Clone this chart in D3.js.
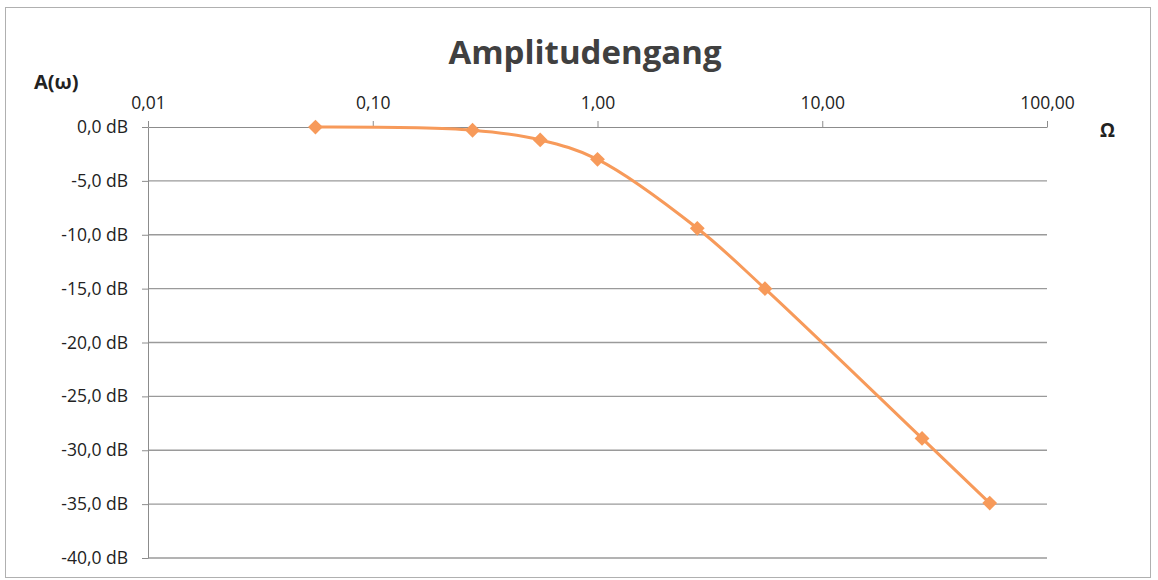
<!DOCTYPE html>
<html>
<head>
<meta charset="utf-8">
<script src="https://cdn.jsdelivr.net/npm/d3@7"></script>
<style>
  body { margin: 0; background: #fff; }
  svg text { font-family: "Open Sans", "Noto Sans", sans-serif; fill: #222; }
  .axis path, .axis line { stroke: #8c8c8c; }
  .axis text { font-size: 17.5px; }
</style>
</head>
<body>
<div class="chart"></div>
<script>
// Amplitudengang (log x, dB y)
var omega = [0.0556, 0.278, 0.556, 1.0, 2.78, 5.56, 27.8, 55.6];
var ampDb = [-0.01, -0.3, -1.2, -3.0, -9.4, -15.0, -28.9, -34.9];
var xTicks = [0.01, 0.1, 1, 10, 100];
var yTicks = [0, -5, -10, -15, -20, -25, -30, -35, -40];

var svgWidth = 1158;
var svgHeight = 580;

var margin = { top: 127, right: 111, bottom: 22, left: 148 };
var width = svgWidth - margin.left - margin.right;
var height = svgHeight - margin.top - margin.bottom;

var svg = d3.select(".chart")
  .append("svg")
  .attr("width", svgWidth)
  .attr("height", svgHeight);

// outer frame
svg.append("rect")
  .attr("x", 5.5).attr("y", 7.5)
  .attr("width", 1145).attr("height", 570)
  .attr("fill", "none")
  .attr("stroke", "#b0b0b0");

var chartGroup = svg.append("g")
  .attr("transform", `translate(${margin.left}, ${margin.top})`);

var xScale = d3.scaleLog()
  .domain([0.01, 100])
  .range([0, width]);

var yScale = d3.scaleLinear()
  .domain([0, -40])
  .range([0, height]);

var comma = v => v.toFixed(2).replace(".", ",");
var dbFmt = v => v.toFixed(1).replace(".", ",").replace("-0,0", "0,0") + " dB";

// gridlines
chartGroup.append("g")
  .selectAll("line")
  .data(yTicks.slice(1))
  .enter()
  .append("line")
  .attr("x1", 0)
  .attr("x2", width)
  .attr("y1", d => yScale(d))
  .attr("y2", d => yScale(d))
  .attr("stroke", "#9a9a9a")
  .attr("stroke-width", 1.3);

var yAxis = d3.axisLeft(yScale)
  .tickValues(yTicks)
  .tickFormat(dbFmt)
  .tickSizeInner(6)
  .tickSizeOuter(0)
  .tickPadding(14);

chartGroup.append("g")
  .attr("class", "axis")
  .call(yAxis);

var xAxis = d3.axisTop(xScale)
  .tickValues(xTicks)
  .tickFormat(comma)
  .tickSizeInner(6)
  .tickSizeOuter(0)
  .tickPadding(12);

chartGroup.append("g")
  .attr("class", "axis")
  .call(xAxis);

// series
var pts = omega.map((w, i) => [xScale(w), yScale(ampDb[i])]);

chartGroup.append("path")
  .datum(pts)
  .attr("fill", "none")
  .attr("stroke", "#f79a5a")
  .attr("stroke-width", 3)
  .attr("d", d3.line().curve(d3.curveCatmullRom.alpha(0.5)));

chartGroup.selectAll(".marker")
  .data(pts)
  .enter()
  .append("path")
  .attr("class", "marker")
  .attr("transform", d => `translate(${d[0]}, ${d[1]})`)
  .attr("d", d3.symbol().type(d3.symbolDiamond2).size(140))
  .attr("fill", "#f79a5a");

// titles
svg.append("text")
  .attr("x", 585)
  .attr("y", 64)
  .attr("text-anchor", "middle")
  .attr("font-size", "33px")
  .attr("font-weight", "bold")
  .style("fill", "#404040")
  .text("Amplitudengang");

svg.append("text")
  .attr("x", 34)
  .attr("y", 89)
  .attr("font-size", "20px")
  .attr("font-weight", "bold")
  .text("A(ω)");

svg.append("text")
  .attr("x", 1100)
  .attr("y", 137)
  .attr("font-size", "19px")
  .attr("font-weight", "bold")
  .text("Ω");
</script>
</body>
</html>
